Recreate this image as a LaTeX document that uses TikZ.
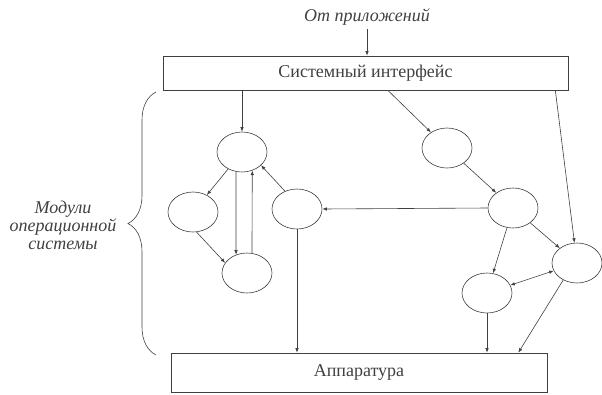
\documentclass[tikz,border=0pt]{standalone}
\usepackage{fontspec}
\setmainfont{Liberation Serif}
\usetikzlibrary{shapes.geometric,decorations.pathreplacing,calc,arrows.meta}

\begin{document}
\begin{tikzpicture}[x=1pt,y=-1pt,line width=0.6pt,color=black!75,
    >={Latex[length=4.5pt,width=3.5pt]},
    module/.style={draw,ellipse,minimum width=50pt,minimum height=40pt,inner sep=0pt},
    block/.style={draw,rectangle,inner sep=0pt,font=\fontsize{18}{20}\selectfont},
    note/.style={font=\itshape\fontsize{18}{18}\selectfont}]
  \useasboundingbox (0,0) rectangle (602,394);

  % Interface and hardware
  \node[note] (app) at (367,17) {От приложений};
  \node[block,minimum width=405pt,minimum height=34pt] (sys) at (365.5,73) {Системный интерфейс};
  \node[block,minimum width=376pt,minimum height=39pt] (hw) at (359,372.5) {Аппаратура};

  % Modules
  \node[module] (m1) at (242,152) {};
  \node[module] (m2) at (193,212) {};
  \node[module] (m3) at (247,273) {};
  \node[module] (m4) at (297,209) {};
  \node[module] (m5) at (447,148) {};
  \node[module] (m6) at (513,208) {};
  \node[module] (m7) at (577,263) {};
  \node[module] (m8) at (487,293) {};

  % Brace with caption
  \coordinate (br1) at (156,355);
  \coordinate (br2) at (156,92);
  \draw[decorate,decoration={brace,amplitude=28pt}] (br1) -- (br2);
  \node[note,align=center] (mods) at (63,225) {Модули\\операционной\\системы};

  % Calls from the interface
  \draw[->] (app) -- (app |- sys.north);
  \draw[->] (m1.north |- sys.south) -- (m1);
  \draw[->] ($(sys.south west)!0.555!(sys.south east)$) -- (m5);
  \draw[->] ($(sys.south west)!0.968!(sys.south east)$) -- (m7);

  % Links between modules
  \draw[->] (m1) -- (m2);
  \draw[->] (m2.-80) -- (m3.155);
  \draw[->] (m1.-107) -- (m3.121);
  \draw[->] (m3.76) -- (m1.-61);
  \draw[->] (m4.124) -- (m1.-35);
  \draw[->] (m6.west) -- (m4.east);
  \draw[->] (m5) -- (m6);
  \draw[->] (m6) -- (m8);
  \draw[->] (m6) -- (m7);
  \draw[<->] (m8) -- (m7);

  % Calls to the hardware
  \draw[->] (m4.south) -- (m4.south |- hw.north);
  \draw[->] (m8.south) -- (m8.south |- hw.north);
  \draw[->] (m7.-129) -- ($(hw.north west)!0.923!(hw.north east)$);
\end{tikzpicture}
\end{document}
